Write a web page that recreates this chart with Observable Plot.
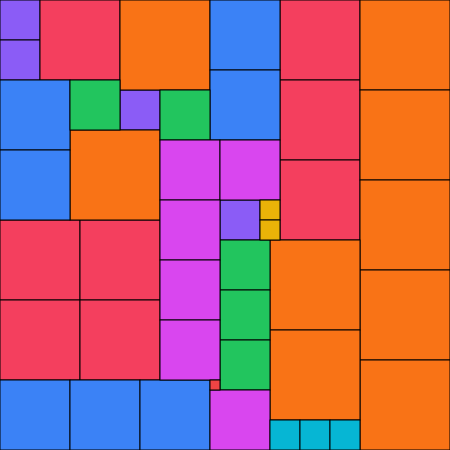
<!DOCTYPE html>
<html>
<head>
<meta charset="utf-8">
<script src="https://cdn.jsdelivr.net/npm/d3@7"></script>
<script src="https://cdn.jsdelivr.net/npm/@observablehq/plot@0.6"></script>
<style>
  html, body { margin: 0; padding: 0; background: #fff; }
  #chart svg { display: block; }
</style>
</head>
<body>
<div id="chart"></div>
<script>
// Square packing, in grid units of 10 (canvas is 45 × 45 units)
const squareX    = [0, 0, 12, 22,   4, 28, 28, 28, 0, 8, 0, 8,   12, 36, 36, 36, 36, 36, 7, 27, 27,   21, 21, 0, 0, 0, 7, 14,   7, 16, 22, 22, 22,   16, 22, 16, 16, 16, 21,   26, 26,   27, 30, 33,   21];
const squareY    = [0, 4, 9, 20,    0, 0, 8, 16, 22, 22, 30, 30,  0, 0, 9, 18, 27, 36, 13, 24, 33,    0, 7, 8, 15, 38, 38, 38,  8, 9, 24, 29, 34,     14, 14, 20, 26, 32, 39,  20, 22,   42, 42, 42,   38];
const squareSide = [4, 4, 4, 4,     8, 8, 8, 8, 8, 8, 8, 8,       9, 9, 9, 9, 9, 9, 9, 9, 9,          7, 7, 7, 7, 7, 7, 7,      5, 5, 5, 5, 5,      6, 6, 6, 6, 6, 6,        2, 2,      3, 3, 3,      1];

const sideDomain = [1, 2, 3, 4, 5, 6, 7, 8, 9];
const palette    = ["#ef4444", "#eab308", "#06b6d4", "#8b5cf6", "#22c55e", "#d946ef", "#3b82f6", "#f43f5e", "#f97316"];

const squares = squareX.map((x, i) => ({x, y: squareY[i], side: squareSide[i]}));

const chart = Plot.plot({
  width: 450,
  height: 450,
  margin: 0,
  x: {domain: [0, 45], range: [0, 450], axis: null},
  y: {domain: [0, 45], range: [0, 450], axis: null},
  color: {type: "ordinal", domain: sideDomain, range: palette},
  marks: [
    Plot.rect(squares, {
      x1: "x",
      x2: d => d.x + d.side,
      y1: "y",
      y2: d => d.y + d.side,
      fill: "side",
      stroke: "black",
      strokeWidth: 1
    })
  ]
});
document.getElementById("chart").appendChild(chart);
</script>
</body>
</html>
